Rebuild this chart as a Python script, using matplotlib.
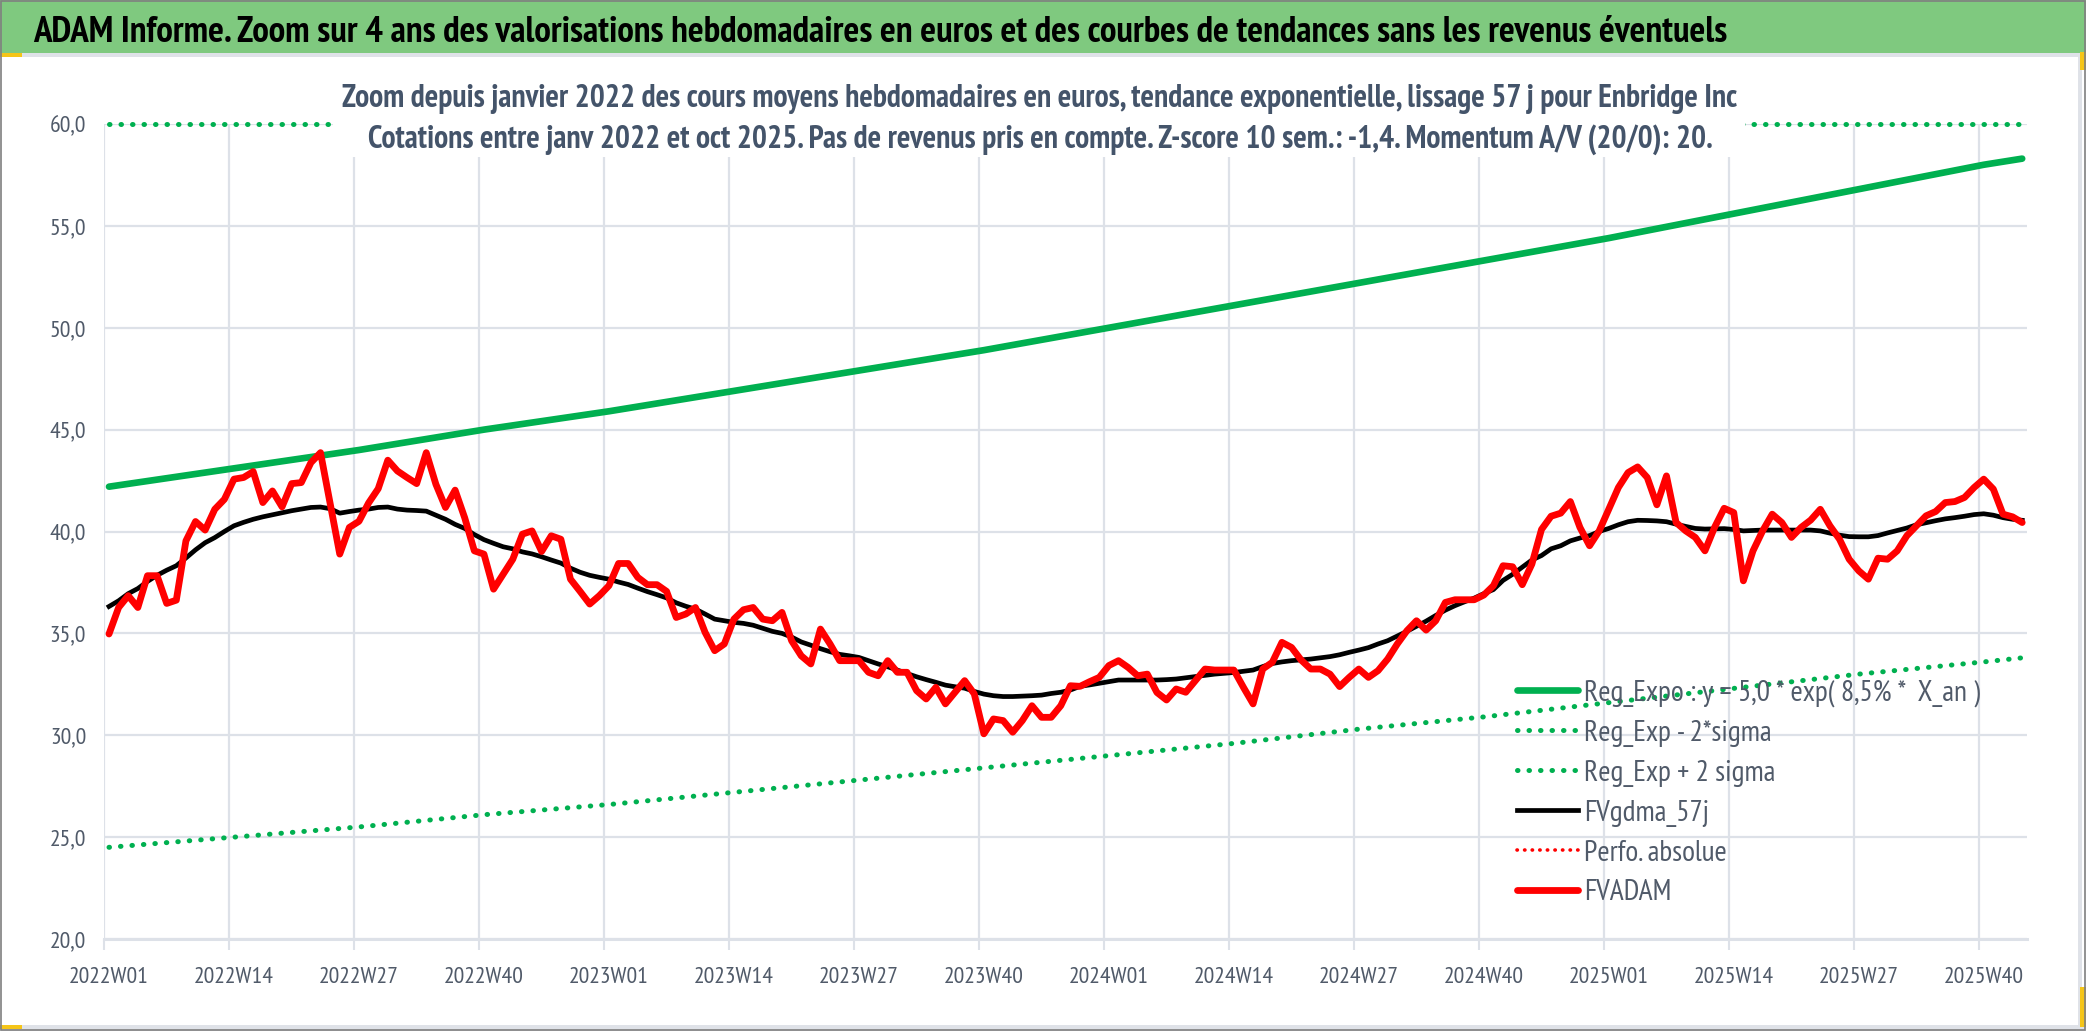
import matplotlib.pyplot as plt
from matplotlib.patches import Rectangle

# Weekly categories 2022W01 .. 2025W44
weeks = [f"{y}W{w:02d}" for y in (2022, 2023, 2024) for w in range(1, 53)]
weeks += [f"2025W{w:02d}" for w in range(1, 45)]

tick_idx = list(range(0, 196, 13))
tick_labels = ["2022W01", "2022W14", "2022W27", "2022W40",
               "2023W01", "2023W14", "2023W27", "2023W40",
               "2024W01", "2024W14", "2024W27", "2024W40",
               "2025W01", "2025W14", "2025W27", "2025W40"]

# FVADAM weekly values (euros)
fvadam = [34.97, 36.27, 36.85, 36.27, 37.83, 37.83, 36.47, 36.63, 39.54, 40.49,
          40.07, 41.09, 41.58, 42.57, 42.65, 42.94, 41.42, 41.99, 41.21, 42.35,
          42.40, 43.38, 43.87, 41.39, 38.89, 40.20, 40.50, 41.40, 42.10, 43.50,
          42.97, 42.65, 42.35, 43.87, 42.32, 41.18, 42.03, 40.67, 39.05, 38.89,
          37.17, 37.90, 38.64, 39.87, 40.03, 39.02, 39.79, 39.62, 37.66, 37.06,
          36.44, 36.85, 37.34, 38.43, 38.43, 37.75, 37.39, 37.39, 37.06, 35.78,
          35.95, 36.27, 35.05, 34.15, 34.48, 35.70, 36.16, 36.27, 35.70, 35.62,
          36.03, 34.64, 33.90, 33.50, 35.21, 34.48, 33.66, 33.66, 33.66, 33.09,
          32.92, 33.66, 33.09, 33.09, 32.19, 31.78, 32.35, 31.54, 32.11, 32.68,
          32.03, 30.07, 30.80, 30.72, 30.15, 30.72, 31.45, 30.88, 30.88, 31.45,
          32.43, 32.40, 32.63, 32.84, 33.42, 33.66, 33.33, 32.92, 33.00, 32.10,
          31.73, 32.27, 32.11, 32.68, 33.25, 33.20, 33.20, 33.20, 32.35, 31.54,
          33.25, 33.58, 34.56, 34.31, 33.69, 33.25, 33.25, 33.00, 32.39, 32.84,
          33.25, 32.84, 33.17, 33.74, 34.48, 35.13, 35.62, 35.16, 35.62, 36.52,
          36.65, 36.65, 36.65, 36.88, 37.34, 38.32, 38.27, 37.39, 38.40, 40.10,
          40.75, 40.90, 41.47, 40.20, 39.30, 40.03, 41.09, 42.16, 42.89, 43.17,
          42.65, 41.31, 42.73, 40.44, 40.03, 39.71, 39.05, 40.20, 41.14, 40.93,
          37.58, 39.05, 40.03, 40.85, 40.44, 39.71, 40.20, 40.56, 41.09, 40.28,
          39.62, 38.64, 38.07, 37.66, 38.69, 38.64, 39.05, 39.79, 40.28, 40.77,
          40.98, 41.42, 41.47, 41.67, 42.16, 42.57, 42.08, 40.85, 40.72, 40.44]

# FVgdma_57j smoothed values
fvgdma = [36.32, 36.60, 36.95, 37.20, 37.55, 37.85, 38.10, 38.32, 38.70, 39.10,
          39.45, 39.70, 40.00, 40.28, 40.45, 40.60, 40.72, 40.82, 40.92, 41.02,
          41.10, 41.18, 41.20, 41.12, 40.90, 40.98, 41.05, 41.10, 41.18, 41.20,
          41.10, 41.05, 41.03, 41.00, 40.80, 40.60, 40.35, 40.15, 39.85, 39.60,
          39.42, 39.25, 39.15, 39.00, 38.90, 38.76, 38.60, 38.45, 38.20, 38.00,
          37.85, 37.75, 37.66, 37.52, 37.40, 37.22, 37.05, 36.90, 36.74, 36.50,
          36.33, 36.19, 35.95, 35.70, 35.62, 35.54, 35.49, 35.40, 35.25, 35.10,
          35.00, 34.82, 34.58, 34.42, 34.25, 34.10, 33.97, 33.90, 33.82, 33.66,
          33.50, 33.36, 33.20, 33.03, 32.87, 32.73, 32.60, 32.46, 32.38, 32.31,
          32.15, 32.02, 31.94, 31.90, 31.90, 31.92, 31.94, 31.97, 32.05, 32.11,
          32.22, 32.40, 32.47, 32.55, 32.63, 32.71, 32.71, 32.71, 32.71, 32.71,
          32.73, 32.76, 32.82, 32.88, 32.94, 33.00, 33.04, 33.08, 33.14, 33.20,
          33.37, 33.52, 33.60, 33.66, 33.70, 33.74, 33.80, 33.86, 33.95, 34.07,
          34.18, 34.30, 34.48, 34.64, 34.87, 35.10, 35.35, 35.60, 35.88, 36.14,
          36.36, 36.55, 36.73, 36.95, 37.15, 37.60, 37.90, 38.25, 38.60, 38.82,
          39.15, 39.30, 39.54, 39.68, 39.80, 40.00, 40.15, 40.33, 40.48, 40.55,
          40.54, 40.52, 40.48, 40.36, 40.25, 40.15, 40.12, 40.13, 40.14, 40.10,
          40.03, 40.05, 40.07, 40.07, 40.07, 40.07, 40.07, 40.07, 40.03, 39.92,
          39.82, 39.75, 39.74, 39.74, 39.80, 39.93, 40.05, 40.17, 40.33, 40.43,
          40.53, 40.62, 40.68, 40.75, 40.83, 40.87, 40.80, 40.68, 40.60, 40.55]

# exponential trend and bands, read at the tick weeks and the last week
trend_idx = [0, 13, 26, 39, 52, 65, 78, 91, 104, 117, 130, 143, 156, 169, 182, 195, 199]
reg_expo = [42.2, 43.1, 44.0, 45.0, 45.9, 46.9, 47.9, 48.9, 50.0, 51.1,
            52.2, 53.3, 54.4, 55.6, 56.8, 58.0, 58.3]
reg_minus = [24.5, 25.0, 25.5, 26.1, 26.6, 27.2, 27.8, 28.4, 29.0, 29.6,
             30.3, 30.9, 31.6, 32.3, 33.0, 33.6, 33.8]
reg_plus = [60.0] * 17  # above the axis max: shown on the 60,0 edge

# narrow fonts first, Carlito as a backup
FONT = ["PT Sans Narrow", "Fira Sans Condensed", "IBM Plex Sans Condensed",
        "Carlito", "DejaVu Sans"]
plt.rcParams["font.family"] = FONT
TXT = "#505a69"
GRID = "#dde1e8"
GREEN = "#00b050"
W, H = 2086, 1031

fig = plt.figure(figsize=(W / 100, H / 100), dpi=100)
renderer = fig.canvas.get_renderer()


def fit_size(text, width_px, weight="normal", base=20):
    # font size that gives the text the width seen in the reference
    t = fig.text(0, 0, text, fontsize=base, fontweight=weight)
    w = t.get_window_extent(renderer).width
    t.remove()
    return base * width_px / w


ax = fig.add_axes([104.2 / W, 1 - 939 / H, (2027 - 104.2) / W, (939 - 124) / H])

dots = (0, (0.1, 2.2))
ax.plot(trend_idx, reg_expo, color=GREEN, lw=4.8, solid_capstyle="round",
        label="Reg_Expo : y = 5,0 * exp( 8,5% *  X_an )", zorder=3)
ax.plot(trend_idx, reg_minus, color=GREEN, lw=3.6, linestyle=dots,
        dash_capstyle="round", label="Reg_Exp - 2*sigma", zorder=3)
ax.plot(trend_idx, reg_plus, color=GREEN, lw=3.6, linestyle=dots,
        dash_capstyle="round", label="Reg_Exp + 2 sigma", zorder=3, clip_on=False)
ax.plot(range(len(fvgdma)), fvgdma, color="black", lw=3.4,
        solid_joinstyle="round", label="FVgdma_57j", zorder=4)
ax.plot([], [], color="red", lw=2.6, linestyle=(0, (0.1, 2.0)),
        dash_capstyle="round", label="Perfo. absolue")
ax.plot(range(len(fvadam)), fvadam, color="red", lw=4.9,
        solid_joinstyle="round", solid_capstyle="round", label="FVADAM", zorder=5)

tick_fs = fit_size("2022W01", 80)
ax.set_xlim(-0.5, len(weeks) - 0.5)
ax.set_ylim(20, 60)
ax.set_yticks(range(20, 61, 5))
ax.set_yticklabels([f"{v},0" for v in range(20, 61, 5)])
ax.set_xticks(tick_idx)
ax.set_xticklabels(tick_labels)
ax.set_xticks([i - 0.5 for i in tick_idx], minor=True)
ax.tick_params(axis="x", which="major", length=0, pad=20, labelsize=tick_fs, labelcolor=TXT)
ax.tick_params(axis="x", which="minor", length=8, width=1.5, color=GRID)
ax.tick_params(axis="y", length=0, pad=13, labelsize=tick_fs, labelcolor=TXT)
ax.grid(axis="y", color=GRID, lw=1.6)
ax.grid(axis="x", which="minor", color=GRID, lw=1.6)
for s in ["top", "right", "left"]:
    ax.spines[s].set_visible(False)
ax.spines["bottom"].set_color(GRID)
ax.spines["bottom"].set_linewidth(2.2)

leg_fs = fit_size("Reg_Expo : y = 5,0 * exp( 8,5% *  X_an )", 395)
leg_px = leg_fs * 100 / 72


def make_legend(spacing, top):
    lg = ax.legend(loc="upper left", bbox_to_anchor=(1517 / W, top),
                   bbox_transform=fig.transFigure, frameon=False, fontsize=leg_fs,
                   handlelength=61 / leg_px, handletextpad=6 / leg_px,
                   labelspacing=spacing, borderpad=0, borderaxespad=0)
    for t in lg.get_texts():
        t.set_color(TXT)
    return lg


# adjust row spacing (40 px) and first row centre (y = 693 px) to the reference
spacing, top = 0.45, 1 - 672 / H
for _ in range(3):
    leg = make_legend(spacing, top)
    fig.canvas.draw()
    ys = [t.get_window_extent(renderer) for t in leg.get_texts()]
    centres = [(b.y0 + b.y1) / 2 for b in ys]
    step = (centres[0] - centres[-1]) / (len(centres) - 1)
    spacing += (40 - step) / leg_px
    top += ((H - 693) - centres[0]) / H
leg = make_legend(spacing, top)

# title bar and frame
fig.patches.append(Rectangle((0, 1 - 53 / H), 1, 53 / H, transform=fig.transFigure,
                             facecolor="#7fc97f", edgecolor="none", zorder=-1))
fig.patches.append(Rectangle((0, 1 - 57 / H), 1, 4 / H, transform=fig.transFigure,
                             facecolor="#dfe2e8", edgecolor="none", zorder=-1))
fig.patches.append(Rectangle((0, 0.0), 1, 6 / H, transform=fig.transFigure,
                             facecolor="#dfe2e8", edgecolor="none", zorder=-1))
fig.patches.append(Rectangle((2078 / W, 6 / H), 4 / W, (H - 63) / H,
                             transform=fig.transFigure, facecolor="#dfe2e8",
                             edgecolor="none", zorder=-1))
for (x0, y0, w, h) in [(0, 974 / H, 22, 4), (2080, 961 / H, 6, 18),
                       (0, 2 / H, 22, 4), (2080, 4 / H, 6, 40)]:
    fig.patches.append(Rectangle((x0 / W, y0), w / W, h / H, transform=fig.transFigure,
                                 facecolor="#f5c518", edgecolor="none", zorder=9))
fig.patches.append(Rectangle((0.0005, 0.0005), 0.999, 0.999, transform=fig.transFigure,
                             facecolor="none", edgecolor="#7f7f7f", lw=1.2, zorder=10))
title = ("ADAM Informe. Zoom sur 4 ans des valorisations hebdomadaires "
         "en euros et des courbes de tendances sans les revenus éventuels")
fig.text(33 / W, 1 - 42 / H, title, fontsize=fit_size(title, 1695, "bold"),
         fontweight="bold", color="black", va="baseline", ha="left")

# subtitle box over the plot
fig.patches.append(Rectangle((333 / W, 1 - 157 / H), (1745 - 333) / W, 89 / H,
                             transform=fig.transFigure, facecolor="white",
                             edgecolor="none", zorder=5))
sub1 = ("Zoom depuis janvier 2022 des cours moyens hebdomadaires en euros, "
        "tendance exponentielle, lissage 57 j pour Enbridge Inc")
sub2 = ("Cotations entre janv 2022 et oct 2025. Pas de revenus pris en compte. "
        "Z-score 10 sem.: -1,4. Momentum A/V (20/0): 20.")
sub_fs = fit_size(sub1, 1395, "bold")
fig.text(1040 / W, 1 - 107 / H, sub1, fontsize=sub_fs, fontweight="bold",
         color="#44546a", ha="center", va="baseline", zorder=6)
fig.text(1040 / W, 1 - 148 / H, sub2, fontsize=sub_fs, fontweight="bold",
         color="#44546a", ha="center", va="baseline", zorder=6)

fig.savefig("out.png", dpi=100, facecolor="white")
